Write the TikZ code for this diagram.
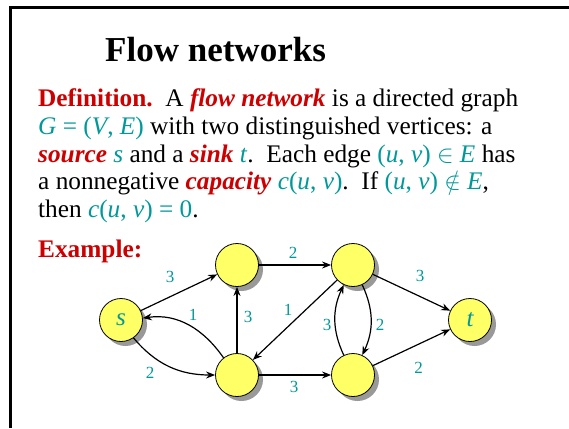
\documentclass[tikz,border=0pt]{standalone}
\usepackage{fontspec}
\setmainfont{Liberation Serif}
\usetikzlibrary{arrows.meta}
\definecolor{dred}{RGB}{204,0,0}
\definecolor{dteal}{RGB}{0,153,153}
\definecolor{nodeyellow}{RGB}{255,255,102}
\newcommand{\rd}[1]{\textcolor{dred}{#1}}
\newcommand{\tl}[1]{\textcolor{dteal}{#1}}
\begin{document}
\begin{tikzpicture}[x=1pt,y=1pt,
  body/.style={anchor=base west, inner sep=0pt, font=\fontsize{25.3}{27.5}\selectfont},
  titletext/.style={anchor=base west, inner sep=0pt, font=\fontsize{35}{40}\selectfont\bfseries},
  vertex/.style={circle, draw=black, line width=0.8pt, fill=nodeyellow, minimum size=43pt, inner sep=0pt,
    preaction={fill=black!40, draw=none, transform canvas={xshift=4.5pt, yshift=-4.5pt}},
    font=\fontsize{25}{30}\selectfont\itshape, text=dteal},
  edge/.style={-{Stealth[length=9pt,width=7pt]}, line width=1.2pt},
  capl/.style={text=dteal, font=\fontsize{17}{19}\selectfont, inner sep=0pt}
]
\useasboundingbox (0,0) rectangle (569,-428);
\fill[white] (0,0) rectangle (569,-428);
\draw[line width=2.5pt, line join=miter] (10.5,-428) -- (10.5,-7.5) -- (569,-7.5);

\node[titletext] (title) at (105,-61.7) {Flow networks};

\node[body] (l1) at (38,-106.7) {\rd{\textbf{Definition.}}\ \ A \rd{\textbf{\textit{flow network}}} is a directed graph};
\node[body] (l2) at (38,-134.4) {\tl{\textit{G} = (\textit{V}, \textit{E})} with two distinguished vertices: a};
\node[body] (l3) at (38,-162) {\rd{\textbf{\textit{source}}} \tl{\textit{s}} and a \rd{\textbf{\textit{sink}}} \tl{\textit{t}}.\ \ Each edge \tl{(\textit{u}, \textit{v}) $\in$ \textit{E}} has};
\node[body] (l4) at (38,-189.6) {a nonnegative \rd{\textbf{\textit{capacity}}} \tl{\textit{c}(\textit{u}, \textit{v})}.\ \ If \tl{(\textit{u}, \textit{v}) $\notin$ \textit{E}},};
\node[body] (l5) at (38,-217) {then \tl{\textit{c}(\textit{u}, \textit{v}) = 0}.};

\node[body] (ex) at (38,-257) {\rd{\textbf{Example:}}};

\node[vertex] (s) at (121,-320) {s};
\node[vertex] (A) at (237,-265) {};
\node[vertex] (B) at (237,-375) {};
\node[vertex] (C) at (353,-265) {};
\node[vertex] (D) at (353,-375) {};
\node[vertex] (t) at (470,-320) {t};

\draw[edge] (s) -- (A);
\draw[edge] (A) -- (C);
\draw[edge] (C) -- (t);
\draw[edge] (D) -- (t);
\draw[edge] (B) -- (D);
\draw[edge] (B) -- (A);
\draw[edge] (C) -- (B);
\draw[edge] (B.128) to[out=125,in=8] (s.5);
\draw[edge] (s.-55) to[out=-50,in=180] (B.180);
\draw[edge] (D.115) to[bend left=25] (C.-115);
\draw[edge] (C.-65) to[bend left=25] (D.65);

\node[capl] (c1) at (170,-277) {3};
\node[capl] (c2) at (293,-253) {2};
\node[capl] (c3) at (420,-275.5) {3};
\node[capl] (c4) at (418.5,-368) {2};
\node[capl] (c5) at (294,-387) {3};
\node[capl] (c6) at (248,-317) {3};
\node[capl] (c7) at (288,-310) {1};
\node[capl] (c8) at (193,-315) {1};
\node[capl] (c9) at (150,-373) {2};
\node[capl] (c10) at (327,-325) {3};
\node[capl] (c11) at (380,-325) {2};
\end{tikzpicture}
\end{document}
